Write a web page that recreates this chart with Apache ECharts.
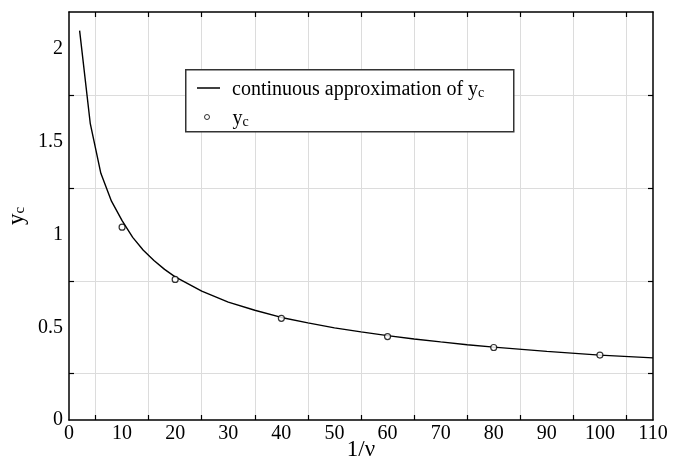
<!DOCTYPE html>
<html>
<head>
<meta charset="utf-8">
<script src="https://cdn.jsdelivr.net/npm/echarts@6/dist/echarts.min.js"></script>
<style>html,body{margin:0;padding:0;background:#fff;}#c{width:679px;height:464px;}</style>
</head>
<body>
<div id="c"></div>
<script>
// ---- data ----
const curveX = [2, 4, 6, 8, 10, 12, 14, 16, 18, 20, 25, 30, 35, 40, 45, 50, 55, 60, 65, 70, 75, 80, 90, 100, 110];
const curveY = [2.10, 1.60, 1.33, 1.18, 1.075, 0.985, 0.915, 0.86, 0.812, 0.772, 0.695, 0.636, 0.592, 0.553, 0.524, 0.497, 0.475, 0.455, 0.437, 0.421, 0.406, 0.393, 0.370, 0.350, 0.335];
const pointX = [10, 20, 40, 60, 80, 100];
const pointY = [1.04, 0.758, 0.548, 0.45, 0.391, 0.35];
const xMinorTicks = [5, 15, 25, 35, 45, 55, 65, 75, 85, 95, 105];
const yMinorTicks = [0.25, 0.75, 1.25, 1.75];
const lineName = 'continuous approximation of yc';
const pointName = 'yc';

const FONT = 'Liberation Serif';
const chart = echarts.init(document.getElementById('c'), null, {renderer: 'canvas'});

const axisLineStyle = {color: '#000', width: 1.5};
const tickStyle = {color: '#000', width: 1.2};

function subRich(big, small, lowered) {
  return {
    m: {fontFamily: FONT, fontSize: big, color: '#000', lineHeight: big + 8, verticalAlign: 'bottom'},
    s: {fontFamily: FONT, fontSize: small, color: '#000', lineHeight: small, padding: [lowered, 0, 0, 0], verticalAlign: 'bottom'}
  };
}

const option = {
  animation: false,
  backgroundColor: '#fff',
  grid: {left: 69, right: 26, top: 12, bottom: 44, containLabel: false, outerBoundsMode: 'none'},
  xAxis: [
    {
      type: 'value', min: 0, max: 110, interval: 10, position: 'bottom',
      axisLine: {show: true, onZero: false, lineStyle: axisLineStyle},
      axisTick: {show: true, inside: true, length: 5, lineStyle: tickStyle, customValues: xMinorTicks},
      axisLabel: {fontFamily: FONT, fontSize: 20, color: '#000', margin: 4},
      splitLine: {show: true, lineStyle: {color: '#dcdcdc', width: 1}},
      name: '1/ν', nameLocation: 'middle', nameGap: 18, nameMoveOverlap: false,
      nameTextStyle: {fontFamily: FONT, fontSize: 23, color: '#000', verticalAlign: 'top'}
    },
    {
      type: 'value', min: 0, max: 110, interval: 10, position: 'top',
      axisLine: {show: true, onZero: false, lineStyle: axisLineStyle},
      axisTick: {show: true, inside: true, length: 5, lineStyle: tickStyle, customValues: xMinorTicks},
      axisLabel: {show: false}, splitLine: {show: false}
    }
  ],
  yAxis: [
    {
      type: 'value', min: 0, max: 2.2, interval: 0.5, position: 'left',
      axisLine: {show: true, onZero: false, lineStyle: axisLineStyle},
      axisTick: {show: true, inside: true, length: 5, lineStyle: tickStyle, customValues: yMinorTicks},
      axisLabel: {fontFamily: FONT, fontSize: 20, color: '#000', margin: 6, showMaxLabel: false,
        formatter: v => (Math.abs(v / 0.5 - Math.round(v / 0.5)) < 1e-6 ? String(v) : '')},
      splitLine: {show: true, lineStyle: {color: '#dcdcdc', width: 1}},
      name: '{m|y}{s|c}', nameLocation: 'middle', nameGap: 41, nameRotate: 90, nameMoveOverlap: false,
      nameTextStyle: {rich: subRich(23, 15, 12)}
    },
    {
      type: 'value', min: 0, max: 2.2, interval: 0.5, position: 'right',
      axisLine: {show: true, onZero: false, lineStyle: axisLineStyle},
      axisTick: {show: true, inside: true, length: 5, lineStyle: tickStyle, customValues: yMinorTicks},
      axisLabel: {show: false}, splitLine: {show: false}
    }
  ],
  legend: [
    {
      left: 192, top: 70, orient: 'vertical', z: 20,
      itemWidth: 23, itemHeight: 1.5,
      data: [{name: lineName, icon: 'rect', itemStyle: {color: '#000', borderWidth: 0}}],
      selectedMode: false,
      formatter: () => '{m|continuous approximation of y}{s|c}',
      textStyle: {rich: {
        m: {fontFamily: FONT, fontSize: 20, color: '#000', lineHeight: 24, verticalAlign: 'bottom', padding: [0, 0, 0, 7]},
        s: {fontFamily: FONT, fontSize: 14, color: '#000', lineHeight: 14, padding: [11, 0, 0, 0], verticalAlign: 'bottom'}
      }}
    },
    {
      left: 199, top: 99, orient: 'vertical', z: 20,
      itemWidth: 5, itemHeight: 5,
      data: [{name: pointName, icon: 'circle', itemStyle: {color: '#fff', borderColor: '#000', borderWidth: 1}}],
      selectedMode: false,
      formatter: () => '{m|y}{s|c}',
      textStyle: {rich: {
        m: {fontFamily: FONT, fontSize: 20, color: '#000', lineHeight: 24, verticalAlign: 'bottom', padding: [0, 0, 0, 18]},
        s: {fontFamily: FONT, fontSize: 14, color: '#000', lineHeight: 14, padding: [11, 0, 0, 0], verticalAlign: 'bottom'}
      }}
    }
  ],
  graphic: [
    {type: 'rect', z: 10, left: 185, top: 69, shape: {width: 328, height: 62},
     style: {fill: '#fff', stroke: '#333', lineWidth: 1.5}}
  ],
  series: [
    {
      name: lineName, type: 'line', xAxisIndex: 0, yAxisIndex: 0,
      data: curveX.map((x, i) => [x, curveY[i]]),
      showSymbol: false, smooth: false,
      lineStyle: {color: '#000', width: 1.4}, itemStyle: {color: '#000'}, z: 3
    },
    {
      name: pointName, type: 'scatter', xAxisIndex: 0, yAxisIndex: 0,
      data: pointX.map((x, i) => [x, pointY[i]]),
      symbol: 'circle', symbolSize: 6,
      itemStyle: {color: '#fff', borderColor: '#000', borderWidth: 1.2}, z: 4
    }
  ]
};
chart.setOption(option);
</script>
</body>
</html>
